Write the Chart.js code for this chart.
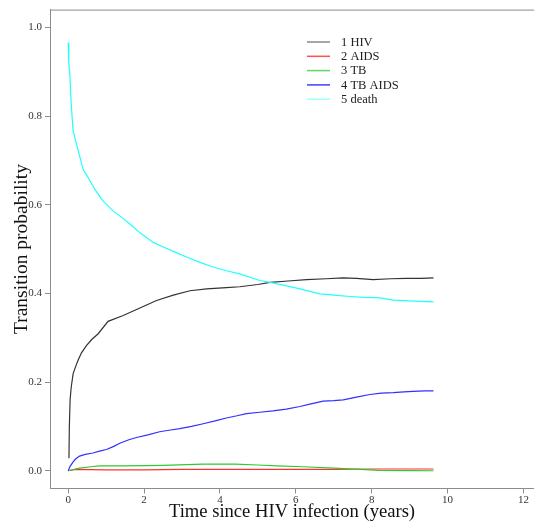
<!DOCTYPE html>
<html><head><meta charset="utf-8">
<script src="https://cdn.jsdelivr.net/npm/chart.js@4"></script>
<style>html,body{margin:0;padding:0;background:#fff;overflow:hidden}#wrap{width:534px;height:521px;position:relative}</style>
</head><body><div id="wrap"><canvas id="c" width="534" height="521"></canvas></div>
<script>
const seriesNames = ["1 HIV", "2 AIDS", "3 TB", "4 TB AIDS", "5 death"];
const seriesColors = ["#333333", "#ff3030", "#30c830", "#3030ff", "#20ffff"];
const legendColors = ["#8a8a8a", "#ff5050", "#60d860", "#4040ff", "#a0ffff"];
const xTicks = [0, 2, 4, 6, 8, 10, 12];
const yTicks = [0, 0.2, 0.4, 0.6, 0.8, 1.0];

const hivT = [0.02, 0.03, 0.05, 0.08, 0.13, 0.2, 0.26, 0.35, 0.48, 0.62, 0.79, 1.05, 1.45, 1.89, 2.33, 2.77, 3.21, 3.65, 4.17, 4.52, 5.0, 5.32, 5.8, 6.28, 6.8, 7.25, 7.6, 8.04, 8.5, 8.92, 9.3, 9.63];
const hivP = [0.028, 0.10, 0.16, 0.189, 0.219, 0.236, 0.249, 0.266, 0.282, 0.296, 0.309, 0.337, 0.35, 0.367, 0.384, 0.396, 0.406, 0.41, 0.413, 0.415, 0.42, 0.425, 0.428, 0.431, 0.433, 0.435, 0.434, 0.431, 0.433, 0.434, 0.434, 0.435];

const aidsT = [0, 0.2, 1, 2, 3, 4, 5, 6, 7, 8, 9, 9.63];
const aidsP = [0, 0.003, 0.002, 0.002, 0.003, 0.003, 0.003, 0.003, 0.003, 0.004, 0.004, 0.004];

const tbT = [0, 0.3, 0.6, 0.83, 1.5, 2.5, 3.55, 4.4, 5.0, 5.5, 6.2, 7.0, 7.7, 8.2, 9.0, 9.63];
const tbP = [0, 0.006, 0.009, 0.011, 0.011, 0.012, 0.015, 0.015, 0.013, 0.011, 0.009, 0.006, 0.003, 0.001, 0.0005, 0.0];

const tbaidsT = [0, 0.05, 0.13, 0.2, 0.3, 0.45, 0.65, 0.85, 1.01, 1.2, 1.36, 1.6, 1.8, 2.1, 2.41, 2.7, 2.94, 3.25, 3.56, 3.9, 4.17, 4.45, 4.7, 5.05, 5.4, 5.75, 6.11, 6.4, 6.72, 7.0, 7.25, 7.6, 7.95, 8.25, 8.57, 8.85, 9.1, 9.4, 9.63];
const tbaidsP = [0, 0.01, 0.02, 0.027, 0.033, 0.037, 0.04, 0.045, 0.048, 0.055, 0.062, 0.07, 0.075, 0.081, 0.088, 0.092, 0.095, 0.1, 0.106, 0.113, 0.119, 0.124, 0.129, 0.132, 0.135, 0.139, 0.145, 0.151, 0.157, 0.158, 0.16, 0.166, 0.172, 0.175, 0.176, 0.178, 0.179, 0.18, 0.18];

const deathT = [0, 0.01, 0.02, 0.04, 0.08, 0.13, 0.22, 0.3, 0.4, 0.5, 0.7, 0.92, 1.18, 1.4, 1.62, 1.9, 2.24, 2.55, 2.85, 3.15, 3.47, 3.8, 4.17, 4.52, 5.05, 5.32, 5.7, 6.11, 6.4, 6.64, 7.0, 7.43, 7.8, 8.22, 8.57, 9.0, 9.3, 9.63];
const deathP = [0.966, 0.95, 0.92, 0.9, 0.826, 0.766, 0.736, 0.71, 0.678, 0.665, 0.635, 0.608, 0.586, 0.572, 0.557, 0.536, 0.515, 0.503, 0.492, 0.481, 0.470, 0.46, 0.451, 0.444, 0.429, 0.425, 0.418, 0.41, 0.404, 0.399, 0.396, 0.393, 0.391, 0.390, 0.385, 0.383, 0.382, 0.381];

const allT = [hivT, aidsT, tbT, tbaidsT, deathT];
const allP = [hivP, aidsP, tbP, tbaidsP, deathP];

const datasets = seriesNames.map((n, i) => ({
  label: n,
  data: allT[i].map((t, k) => ({x: t, y: allP[i][k]})),
  borderColor: seriesColors[i],
  backgroundColor: seriesColors[i],
  borderWidth: 1.2,
  pointRadius: 0,
  tension: 0,
  fill: false,
  order: 5 - i
}));

const SERIF = "'Liberation Serif', 'Times New Roman', serif";

const customLegend = {
  id: 'customLegend',
  afterDraw(chart) {
    const ctx = chart.ctx;
    ctx.save();
    ctx.strokeStyle = '#8c8c8c';
    ctx.lineWidth = 1;
    ctx.beginPath();
    ctx.moveTo(chart.chartArea.left, chart.chartArea.top + 0.5);
    ctx.lineTo(chart.width, chart.chartArea.top + 0.5);
    ctx.stroke();
    ctx.font = "12.5px " + SERIF;
    ctx.textBaseline = 'middle';
    ctx.textAlign = 'left';
    chart.data.datasets.forEach((ds, i) => {
      const y = 42 + i * 14.3;
      ctx.strokeStyle = legendColors[i];
      ctx.lineWidth = 1.5;
      ctx.beginPath();
      ctx.moveTo(307, y);
      ctx.lineTo(330, y);
      ctx.stroke();
      ctx.fillStyle = '#222';
      ctx.fillText(ds.label, 341, y + 0.5);
    });
    ctx.restore();
  }
};

new Chart(document.getElementById('c'), {
  type: 'line',
  data: {datasets},
  plugins: [customLegend],
  options: {
    responsive: false,
    animation: false,
    events: [],
    layout: {padding: {top: 8, right: 0, left: 0, bottom: 0}},
    plugins: {legend: {display: false}, tooltip: {enabled: false}},
    scales: {
      x: {
        type: 'linear',
        min: -0.48,
        max: 12.28,
        afterBuildTicks: (s) => { s.ticks = xTicks.map(v => ({value: v})); },
        afterFit: (s) => { s.height = 32.5; },
        border: {display: true, color: '#8c8c8c', width: 1},
        grid: {display: true, drawOnChartArea: false, drawTicks: true, tickLength: 5, color: '#8c8c8c'},
        ticks: {font: {family: SERIF, size: 11}, color: '#333', padding: 0, maxRotation: 0,
          callback: (v) => String(v)},
        title: {display: true, text: 'Time since HIV infection (years)',
          font: {family: SERIF, size: 18.6, lineHeight: 1.0}, color: '#111', padding: {top: 0, bottom: 0}}
      },
      y: {
        type: 'linear',
        min: -0.04,
        max: 1.04,
        afterBuildTicks: (s) => { s.ticks = yTicks.map(v => ({value: v})); },
        afterFit: (s) => { s.width = 50; },
        border: {display: true, color: '#8c8c8c', width: 1},
        grid: {display: true, drawOnChartArea: false, drawTicks: true, tickLength: 5, color: '#8c8c8c'},
        ticks: {font: {family: SERIF, size: 11}, color: '#333', padding: 3,
          callback: (v) => Number(v).toFixed(1)},
        title: {display: true, text: 'Transition probability',
          font: {family: SERIF, size: 19.5, lineHeight: 1.0}, color: '#111', padding: {top: 12, bottom: 0}}
      }
    }
  }
});
</script>
</body></html>
